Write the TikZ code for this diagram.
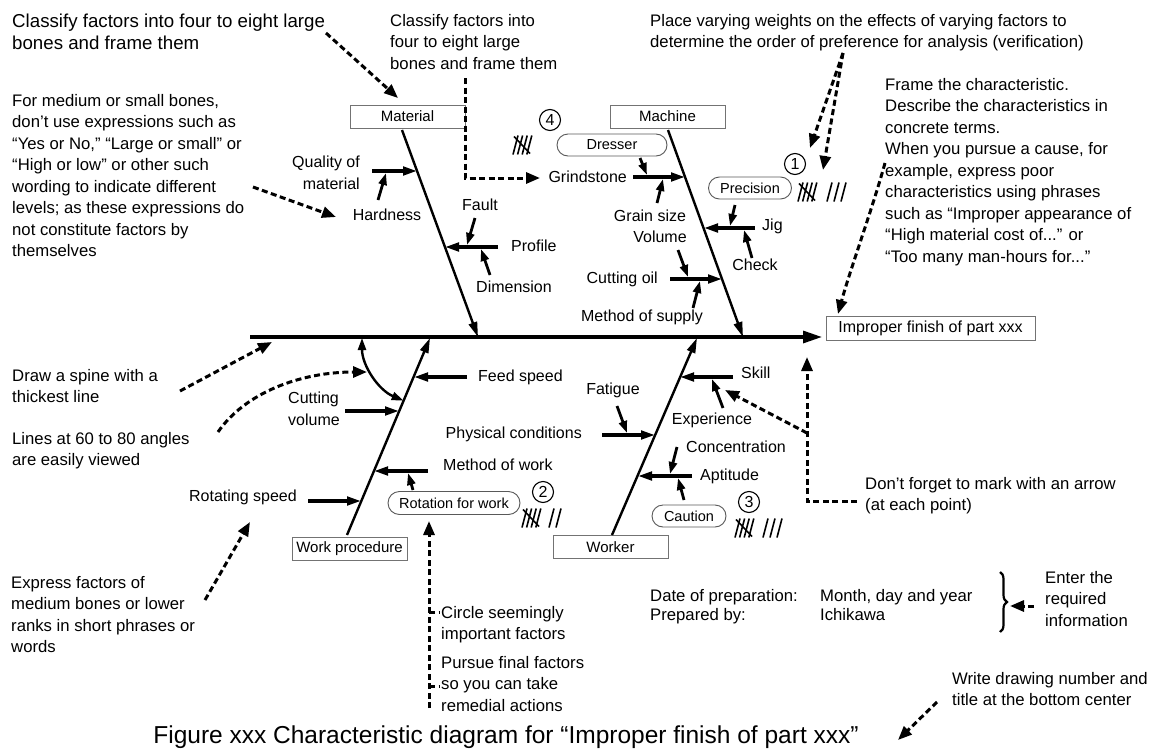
\documentclass[tikz,border=0pt]{standalone}
\usepackage{fontspec}
\setmainfont{Liberation Sans}
\usetikzlibrary{arrows.meta,decorations.pathreplacing,shapes.misc}
\tikzset{
  lab/.style={font=\fontsize{16}{22}\selectfont, inner sep=0pt},
  note/.style={font=\fontsize{16.7}{21.5}\selectfont, align=left, inner sep=0pt, anchor=north west},
  catbox/.style={draw=black!55, line width=0.9pt, minimum width=115pt, minimum height=23pt, inner sep=0pt, font=\fontsize{15}{17}\selectfont},
  pill/.style={draw=black!65, rounded rectangle, line width=0.9pt, inner sep=0pt, minimum height=22pt, font=\fontsize{14.5}{17}\selectfont},
  bone/.style={line width=2.4pt, -{Triangle[length=15pt,width=8.5pt]}},
  sub/.style={line width=3.2pt, -{Triangle[length=14pt,width=8.5pt]}},
  twig/.style={line width=2.8pt, -{Triangle[length=12pt,width=8pt]}},
  hint/.style={line width=3pt, dash pattern=on 6pt off 3.5pt, -{Triangle[length=14pt,width=11pt]}},
  hintline/.style={line width=3pt, dash pattern=on 6pt off 3.5pt},
  num/.style={circle, draw, line width=1.1pt, minimum size=21pt, inner sep=0pt, font=\fontsize{16}{16}\selectfont},
  fivemark/.pic={\foreach \i in {0,1,2,3}{\draw[line width=1.6pt] (\i*4.6-2,9.5) -- (\i*4.6+3,-9.5);}
                 \draw[line width=1.6pt] (-1,-8.5) -- (15,8.5);},
  onemark/.pic={\draw[line width=1.6pt] (-2,9.5) -- (3,-9.5);}
}
\begin{document}
\begin{tikzpicture}[x=1pt,y=-1pt]
\fill[white] (0,0) rectangle (1149,755);
\useasboundingbox (0,0) rectangle (1149,755);

% ---------- boxes ----------
\node[catbox] (mat) at (407.5,116.5) {Material};
\node[catbox] (mach) at (667.5,116.5) {Machine};
\node[catbox] (wp) at (349.5,549) {Work procedure};
\node[catbox] (wk) at (610.5,547) {Worker};
\node[catbox, minimum width=209pt, minimum height=24pt, font=\fontsize{16}{18}\selectfont] (eff) at (930.5,328) {Improper finish of part xxx};

% ---------- spine ----------
\coordinate (sp0) at (250,337);
\coordinate (sp1) at (822,337);
\draw[line width=3.2pt, -{Triangle[length=19pt,width=12pt]}] (sp0) -- (sp1);

% ---------- bones ----------
\coordinate (m0) at (402,130); \coordinate (m1) at (478,337);
\coordinate (c0) at (668,130); \coordinate (c1) at (743,337);
\coordinate (w0) at (347,535); \coordinate (w1) at (430,338);
\coordinate (k0) at (612,535); \coordinate (k1) at (697,338);
\draw[bone] (m0) -- (m1);
\draw[bone] (c0) -- (c1);
\draw[bone] (w0) -- (w1);
\draw[bone] (k0) -- (k1);

% ---------- Material ----------
\coordinate (q0) at (372,171); \coordinate (q1) at (417,171);
\draw[sub] (q0) -- (q1);
\node[lab, align=right, anchor=east] (qual) at (360,173) {Quality of\\material};
\coordinate (h0) at (378,200); \coordinate (h1) at (386,173);
\draw[twig] (h0) -- (h1);
\node[lab] (hard) at (387,215) {Hardness};
\coordinate (p0) at (498,247); \coordinate (p1) at (445,247);
\draw[sub] (p0) -- (p1);
\node[lab, anchor=west] (prof) at (511,246) {Profile};
\coordinate (f0) at (475,218); \coordinate (f1) at (467,245);
\draw[twig] (f0) -- (f1);
\node[lab] (fault) at (480,205) {Fault};
\coordinate (d0) at (490,275); \coordinate (d1) at (481,249);
\draw[twig] (d0) -- (d1);
\node[lab, anchor=west] (dim) at (476,287) {Dimension};

% ---------- Machine ----------
\coordinate (g0) at (633,177); \coordinate (g1) at (685,177);
\draw[sub] (g0) -- (g1);
\node[lab, anchor=east] (grind) at (627,177) {Grindstone};
\node[pill, minimum width=110pt] (dress) at (612,145) {Dresser};
\coordinate (dr0) at (640,158); \coordinate (dr1) at (647,175);
\draw[twig] (dr0) -- (dr1);
\coordinate (gr0) at (657,203); \coordinate (gr1) at (663,179);
\draw[twig] (gr0) -- (gr1);
\node[lab] (grain) at (650,216) {Grain size};
\node[lab] (vol) at (660,237) {Volume};
\coordinate (v0) at (678,250); \coordinate (v1) at (688,277);
\draw[twig] (v0) -- (v1);
\coordinate (o0) at (670,279); \coordinate (o1) at (722,279);
\draw[sub] (o0) -- (o1);
\node[lab, anchor=east] (oil) at (658,279) {Cutting oil};
\coordinate (ms0) at (693,308); \coordinate (ms1) at (700,281);
\draw[twig] (ms0) -- (ms1);
\node[lab] (supply) at (642,317) {Method of supply};
\coordinate (j0) at (755,228); \coordinate (j1) at (704,228);
\draw[sub] (j0) -- (j1);
\node[lab, anchor=west] (jig) at (762,226) {Jig};
\node[pill, minimum width=83pt] (prec) at (750,188) {Precision};
\coordinate (pr0) at (735,205); \coordinate (pr1) at (730,226);
\draw[twig] (pr0) -- (pr1);
\coordinate (ck0) at (752,258); \coordinate (ck1) at (744,230);
\draw[twig] (ck0) -- (ck1);
\node[lab] (check) at (755,265) {Check};

% ---------- Work procedure ----------
\coordinate (fs0) at (467,377); \coordinate (fs1) at (414,377);
\draw[sub] (fs0) -- (fs1);
\node[lab, anchor=west] (feed) at (478,377) {Feed speed};
\coordinate (cv0) at (345,411); \coordinate (cv1) at (399,411);
\draw[sub] (cv0) -- (cv1);
\node[lab, anchor=west, align=left] (cutv) at (288,409) {Cutting\\volume};
\draw[line width=2.4pt, {Triangle[length=12pt,width=8pt]}-{Triangle[length=12pt,width=8pt]}]
  (w1) ++(180:68) arc[start angle=180, end angle=112.8, radius=68];
\coordinate (mw0) at (428,471); \coordinate (mw1) at (374,471);
\draw[sub] (mw0) -- (mw1);
\node[lab, anchor=west] (mwork) at (443,465) {Method of work};
\node[pill, minimum width=132pt, minimum height=23pt] (rot) at (454,503) {Rotation for work};
\coordinate (rw0) at (413,490); \coordinate (rw1) at (408,473);
\draw[twig] (rw0) -- (rw1);
\coordinate (rs0) at (308,501); \coordinate (rs1) at (361,501);
\draw[sub] (rs0) -- (rs1);
\node[lab, anchor=east] (rspeed) at (297,497) {Rotating speed};

% ---------- Worker ----------
\coordinate (sk0) at (733,377); \coordinate (sk1) at (680,377);
\draw[sub] (sk0) -- (sk1);
\node[lab, anchor=west] (skill) at (741,373) {Skill};
\coordinate (ex0) at (723,408); \coordinate (ex1) at (712,379);
\draw[twig] (ex0) -- (ex1);
\node[lab] (exper) at (712,420) {Experience};
\coordinate (pc0) at (602,435); \coordinate (pc1) at (655,435);
\draw[sub] (pc0) -- (pc1);
\node[lab, anchor=east] (phys) at (582,434) {Physical conditions};
\coordinate (ft0) at (617,406); \coordinate (ft1) at (627,433);
\draw[twig] (ft0) -- (ft1);
\node[lab] (fatig) at (613,390) {Fatigue};
\coordinate (ap0) at (692,476); \coordinate (ap1) at (638,476);
\draw[sub] (ap0) -- (ap1);
\node[lab, anchor=west] (apt) at (700,476) {Aptitude};
\coordinate (cn0) at (677,447); \coordinate (cn1) at (670,474);
\draw[twig] (cn0) -- (cn1);
\node[lab, anchor=west] (conc) at (686,447) {Concentration};
\node[pill, minimum width=74pt] (caut) at (689,516) {Caution};
\coordinate (ca0) at (684,500); \coordinate (ca1) at (678,478);
\draw[twig] (ca0) -- (ca1);

% ---------- ranks and tallies ----------
\node[num] (r1) at (795,164) {1};
\node[num] (r2) at (543,492) {2};
\node[num] (r3) at (749,502) {3};
\node[num] (r4) at (550,120) {4};
\pic at (800,192) {fivemark};
\pic at (829,192) {onemark}; \pic at (836,192) {onemark}; \pic at (843,192) {onemark};
\pic at (515,145) {fivemark};
\pic at (524,518) {fivemark};
\pic at (551,518) {onemark}; \pic at (558,518) {onemark};
\pic at (737,528) {fivemark};
\pic at (765,528) {onemark}; \pic at (772,528) {onemark}; \pic at (779,528) {onemark};

% ---------- notes ----------
\node[note, font=\fontsize{18.7}{21.5}\selectfont] (tTop) at (12,14) {Classify factors into four to eight large\\bones and frame them};
\node[note] (tMid) at (390,14) {Classify factors into\\four to eight large\\bones and frame them};
\node[note] (tPlace) at (650,14) {Place varying weights on the effects of varying factors to\\determine the order of preference for analysis (verification)};
\node[note] (tFrame) at (885,78) {Frame the characteristic.\\Describe the characteristics in\\concrete terms.\\When you pursue a cause, for\\example, express poor\\characteristics using phrases\\such as “Improper appearance of\\“High material cost of...” or\\“Too many man-hours for...”};
\node[note] (tMed) at (12,94) {For medium or small bones,\\don’t use expressions such as\\“Yes or No,” “Large or small” or\\“High or low” or other such\\wording to indicate different\\levels; as these expressions do\\not constitute factors by\\themselves};
\node[note] (tSpine) at (12,369) {Draw a spine with a\\thickest line};
\node[note] (tAngle) at (12,432) {Lines at 60 to 80 angles\\are easily viewed};
\node[note] (tExpr) at (11,576) {Express factors of\\medium bones or lower\\ranks in short phrases or\\words};
\node[note] (tCircle) at (441,606) {Circle seemingly\\important factors};
\node[note] (tPursue) at (441,656) {Pursue final factors\\so you can take\\remedial actions};
\node[note] (tForget) at (865,477) {Don’t forget to mark with an arrow\\(at each point)};
\node[note, font=\fontsize{16.7}{19}\selectfont] (tDate) at (650,589) {Date of preparation:\\Prepared by:};
\node[note, font=\fontsize{16.7}{19}\selectfont] (tMonth) at (820,589) {Month, day and year\\Ichikawa};
\node[note] (tEnter) at (1045,571) {Enter the\\required\\information};
\node[note] (tWrite) at (952,672) {Write drawing number and\\title at the bottom center};
\node[inner sep=0pt, font=\fontsize{24.5}{27}\selectfont] (title) at (506,737) {Figure xxx Characteristic diagram for “Improper finish of part xxx”};

% ---------- hint arrows ----------
\coordinate (a1s) at (326,33); \coordinate (a1e) at (398,98);
\draw[hint] (a1s) -- (a1e);
\coordinate (a2s) at (465,78); \coordinate (a2e) at (540,178);
\draw[hint] (a2s) |- (a2e);
\coordinate (a3s) at (843,53); \coordinate (a3e) at (810,148); \coordinate (a3f) at (823,170);
\draw[hint] (a3s) -- (a3e);
\draw[hint] (a3s) -- (a3f);
\coordinate (a4s) at (885,163); \coordinate (a4e) at (838,314);
\draw[hint] (a4s) .. controls (872,210) and (850,270) .. (a4e);
\coordinate (a5s) at (857,501); \coordinate (a5e) at (807,357);
\draw[hint] (a5s) -| (a5e);
\coordinate (a5j) at (807,433); \coordinate (a5f) at (725,390);
\draw[hint] (a5j) -- (a5f);
\coordinate (a6s) at (180,391); \coordinate (a6e) at (272,342);
\draw[hint] (a6s) -- (a6e);
\coordinate (a7s) at (218,432); \coordinate (a7e) at (367,372);
\draw[hint] (a7s) .. controls (245,393) and (300,372) .. (a7e);
\coordinate (a8s) at (253,187); \coordinate (a8e) at (336,217);
\draw[hint] (a8s) -- (a8e);
\coordinate (a9s) at (205,600); \coordinate (a9e) at (250,522);
\draw[hint] (a9s) -- (a9e);
\coordinate (a10s) at (429,708); \coordinate (a10e) at (429,521);
\draw[hint] (a10s) -- (a10e);
\coordinate (t1a) at (429,612); \coordinate (t1b) at (440,612);
\coordinate (t2a) at (429,686); \coordinate (t2b) at (440,686);
\draw[hintline] (t1a) -- (t1b);
\draw[hintline] (t2a) -- (t2b);
\coordinate (b0) at (1000,572); \coordinate (b1) at (1000,632);
\draw[line width=2.2pt, decorate, decoration={brace, amplitude=7pt}] (b0) -- (b1);
\coordinate (a11s) at (1034,606); \coordinate (a11e) at (1010,606);
\draw[hint] (a11s) -- (a11e);
\coordinate (a12s) at (937,702); \coordinate (a12e) at (898,740);
\draw[hint] (a12s) -- (a12e);
\end{tikzpicture}
\end{document}
